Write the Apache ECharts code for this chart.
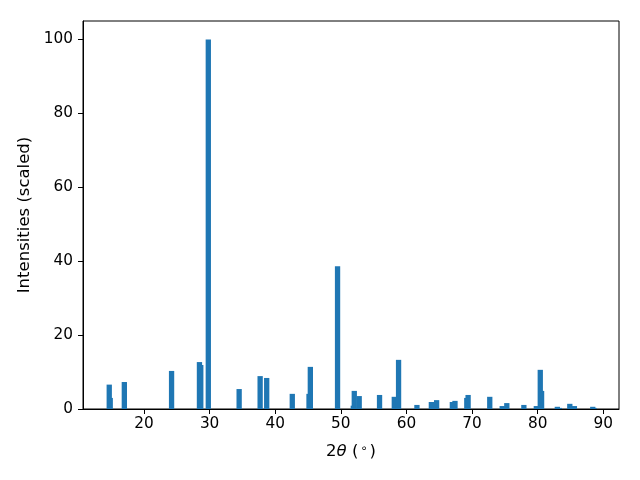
<!DOCTYPE html>
<html>
<head>
<meta charset="utf-8">
<script src="https://cdn.jsdelivr.net/npm/echarts@6/dist/echarts.min.js"></script>
<style>html,body{margin:0;padding:0;background:#fff}#c{width:640px;height:480px}</style>
</head>
<body>
<div id="c"></div>
<script>
// Peak positions (2θ, degrees) and scaled intensities, drawn in order
const twoTheta = [14.7, 14.85, 17.0, 24.2, 28.45, 28.65, 29.8, 34.5, 37.7, 38.7, 42.6, 45.15, 45.35, 49.5,
  51.9, 52.05, 52.8, 55.9, 58.15, 58.8, 61.6, 63.8, 64.6, 67.0, 67.4, 69.2, 69.4, 72.7, 74.6, 75.3,
  77.9, 79.8, 80.4, 80.6, 83.0, 83.3, 84.9, 85.6, 88.4, 88.6];
const intensity = [6.6, 3.0, 7.3, 10.3, 12.7, 11.9, 100, 5.4, 8.9, 8.4, 4.1, 4.1, 11.4, 38.6,
  0.9, 4.9, 3.5, 3.8, 3.3, 13.3, 1.1, 1.9, 2.4, 1.9, 2.2, 3.0, 3.8, 3.3, 0.8, 1.6,
  1.1, 0.8, 10.6, 4.9, 0.6, 0.3, 1.4, 0.8, 0.6, 0.3];
const xTicks = [20, 30, 40, 50, 60, 70, 80, 90];
const yTicks = [0, 20, 40, 60, 80, 100];

const chart = echarts.init(document.getElementById('c'), null, {renderer: 'canvas'});
const font = 'DejaVu Sans';
chart.setOption({
  animation: false,
  grid: {left: 83, right: 21, top: 21, bottom: 71, show: true, borderColor: '#000', borderWidth: 1, backgroundColor: 'transparent'},
  xAxis: {
    type: 'value', min: 10.7, max: 92.4,
    axisLine: {show: true, onZero: false, lineStyle: {color: '#000', width: 1}},
    axisTick: {show: true, length: 5, customValues: xTicks, lineStyle: {color: '#000'}},
    axisLabel: {customValues: xTicks, color: '#000', fontFamily: font, fontSize: 15.3, margin: 8},
    splitLine: {show: false},
    name: '{a|2}{b|θ}{a| (}{c|∘}{a|)}',
    nameLocation: 'middle', nameGap: 34,
    nameTextStyle: {
      color: '#000', fontFamily: font, fontSize: 16.5,
      rich: {
        a: {fontFamily: font, fontSize: 16.5, color: '#000'},
        b: {fontFamily: font, fontSize: 16.5, fontStyle: 'italic', color: '#000'},
        c: {fontFamily: font, fontSize: 11.5, color: '#000', verticalAlign: 'top', padding: [0, 2, 6, 2]}
      }
    }
  },
  yAxis: {
    type: 'value', min: 0, max: 105,
    axisLine: {show: true, onZero: false, lineStyle: {color: '#000', width: 1}},
    axisTick: {show: true, length: 5, customValues: yTicks, lineStyle: {color: '#000'}},
    axisLabel: {customValues: yTicks, color: '#000', fontFamily: font, fontSize: 15.3, margin: 10},
    splitLine: {show: false},
    name: 'Intensities (scaled)', nameLocation: 'middle', nameGap: 45,
    nameTextStyle: {color: '#000', fontFamily: font, fontSize: 16.5}
  },
  series: [{
    type: 'bar',
    barWidth: 5.3,
    itemStyle: {color: '#1f77b4'},
    data: twoTheta.map((x, i) => [x, intensity[i]])
  }]
});
</script>
</body>
</html>
